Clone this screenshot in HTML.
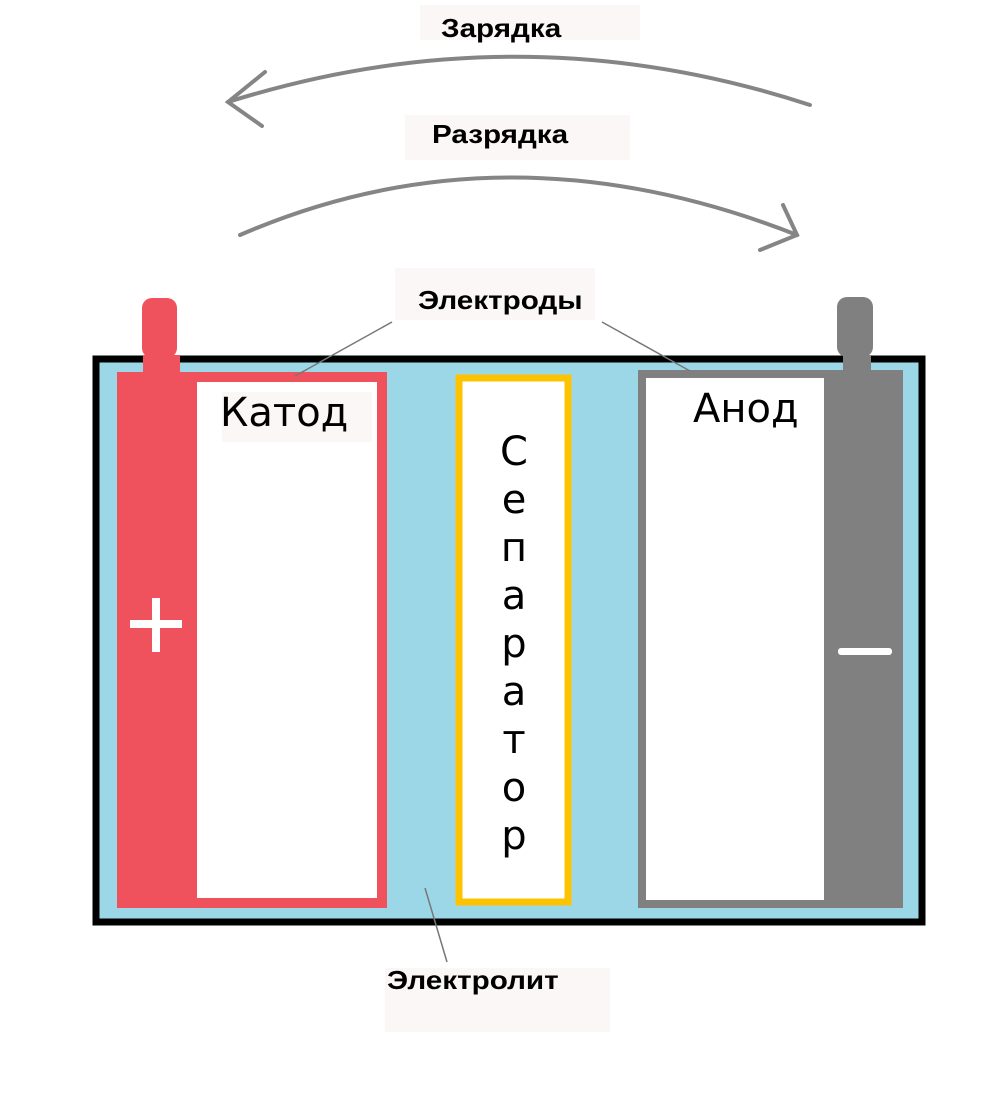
<!DOCTYPE html>
<html><head><meta charset="utf-8"><style>
body{margin:0;background:#fff;}
.lbl{position:absolute;font-family:"Liberation Sans",sans-serif;font-weight:bold;font-size:26px;color:#000;transform:scaleX(1.14);transform-origin:0 0;}
.big{position:absolute;font-family:"DejaVu Sans","Liberation Sans",sans-serif;font-size:40px;color:#000;}
</style></head><body>
<div style="position:relative;width:1000px;height:1102px;overflow:hidden;">
<svg width="1000" height="1102" style="position:absolute;left:0;top:0">
<rect x="420" y="5" width="220" height="35" fill="#fcf7f7"/>
<rect x="405" y="115" width="225" height="45" fill="#fcf7f7"/>
<rect x="395" y="268" width="200" height="52" fill="#fcf7f7"/>
<rect x="385" y="968" width="225" height="64" fill="#fcf7f7"/>
<g fill="none" stroke="#858585" stroke-width="4" stroke-linecap="round">
<path d="M810 105 Q520 10 228 102"/>
<path d="M265 72 L228 102 L262 126"/>
<path d="M240 235 Q505 120 797 235"/>
<path d="M783 205 L797 235 L760 250"/>
</g>
<rect x="96" y="359" width="826" height="563" fill="#9cd7e8" stroke="#000" stroke-width="7"/>
<rect x="142" y="298" width="35" height="60" rx="10" fill="#ef525c"/>
<rect x="143" y="355" width="37" height="20" fill="#ef525c"/>
<rect x="192" y="377" width="190" height="526" fill="#fff" stroke="#ef525c" stroke-width="10"/>
<rect x="117" y="372" width="80" height="536" fill="#ef525c"/>
<rect x="459" y="378" width="109" height="524" fill="#fff" stroke="#fdc300" stroke-width="7"/>
<rect x="837" y="297" width="36" height="60" rx="10" fill="#808080"/>
<rect x="843" y="355" width="28" height="18" fill="#808080"/>
<rect x="825" y="370" width="78" height="538" fill="#808080"/>
<rect x="642" y="374" width="186" height="530" fill="#fff" stroke="#808080" stroke-width="8"/>
<rect x="222" y="392" width="150" height="50" fill="#fcf7f7"/>
<rect x="130" y="620" width="52" height="8" fill="#fff"/>
<rect x="152" y="598" width="8" height="54" fill="#fff"/>
<rect x="838" y="648" width="54" height="7" fill="#fff" rx="3"/>
<g stroke="#777" stroke-width="1.5">
<line x1="392" y1="322" x2="295" y2="376"/>
<line x1="602" y1="322" x2="690" y2="371"/>
<line x1="425" y1="888" x2="447" y2="962"/>
</g>
</svg>
<div class="lbl" style="left:441px;top:13px">Зарядка</div>
<div class="lbl" style="left:432px;top:119px">Разрядка</div>
<div class="lbl" style="left:418px;top:285px">Электроды</div>
<div class="lbl" style="left:387px;top:965px">Электролит</div>
<div class="big" style="left:220px;top:390px">Катод</div>
<div class="big" style="left:693px;top:386px">Анод</div>
<div class="big" style="left:494px;top:428px;width:40px;text-align:center;line-height:48px">С<br>е<br>п<br>а<br>р<br>а<br>т<br>о<br>р</div>
</div>
</body></html>
